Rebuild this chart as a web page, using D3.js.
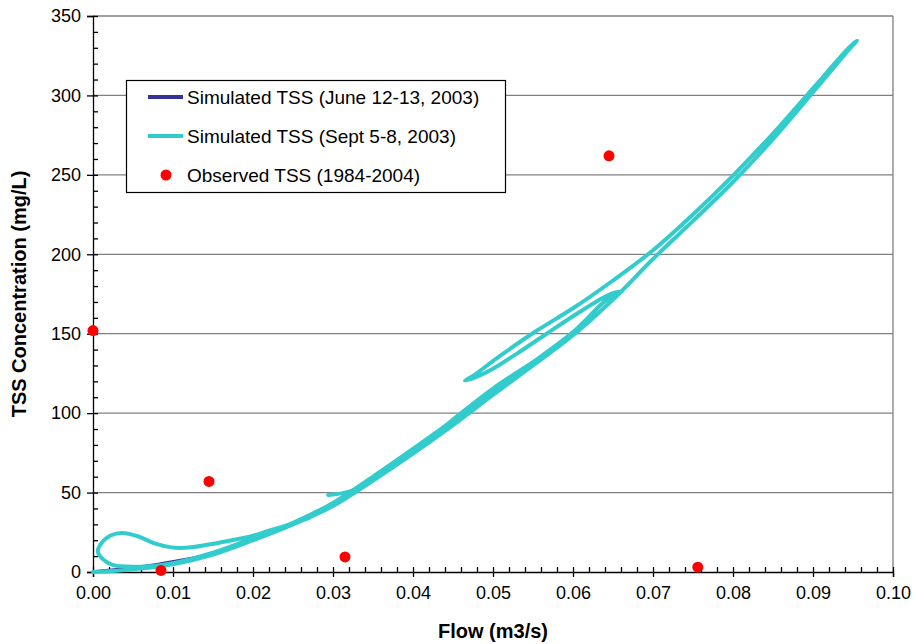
<!DOCTYPE html>
<html><head><meta charset="utf-8">
<script src="https://cdn.jsdelivr.net/npm/d3@7"></script>
<style>body{margin:0;background:#fff}svg{display:block;font-family:"Liberation Sans",Arial,sans-serif}</style>
</head><body><svg id="c" width="917" height="644"></svg>
<script>
// ---- data ----
const xTicks = [0,0.01,0.02,0.03,0.04,0.05,0.06,0.07,0.08,0.09,0.10];
const yTicks = [0,50,100,150,200,250,300,350];
const seriesNames = ["Simulated TSS (June 12-13, 2003)","Simulated TSS (Sept 5-8, 2003)","Observed TSS (1984-2004)"];

// June 12-13, 2003 simulated [flow, TSS]
const juneEvent = [[0.0000,0.2],[0.0040,2.2],[0.0080,4.8],[0.0120,8.3],[0.0145,10.8]];

// Sept 5-8, 2003 simulated [flow, TSS] (continuous trace)
const septEvent1 = [
 [0.0000,0.0],[0.0030,0.8],[0.0060,2.2],[0.0100,4.8],[0.0150,11.0],[0.0200,20.0],[0.0250,30.0],
 [0.0300,41.5],[0.0350,57.5],[0.0400,74.5],[0.0450,92.5],[0.0500,111.5],[0.0550,130.0],[0.0600,149.0],
 [0.0650,171.5],[0.0700,197.0],[0.0750,221.0],[0.0800,245.5],[0.0850,272.5],[0.0900,302.0],[0.0940,326.0],[0.0955,334.5],
 [0.0945,330.0],[0.0900,304.5],[0.0850,276.0],[0.0800,249.5],[0.0750,225.0],[0.0700,202.5],[0.0650,183.5],
 [0.0600,166.0],[0.0555,152.0],[0.0510,136.5],[0.0475,123.5],[0.0465,120.5],
 [0.0480,123.0],[0.0500,128.0],[0.0530,137.5],[0.0567,150.0],[0.0600,161.0],[0.0637,172.5],[0.0650,175.5],[0.0658,176.5],
 [0.0640,170.5],[0.0600,151.0],[0.0550,132.0],[0.0500,114.0],[0.0450,95.5],[0.0400,77.5],[0.0350,60.0],
 [0.0300,43.5],[0.0250,31.0],[0.0200,21.2],[0.0150,12.2],[0.0100,5.6],[0.0060,3.3],
 [0.0040,3.5],[0.0028,4.0],[0.0018,6.0],[0.0008,10.5],[0.0006,13.5],[0.0012,19.0],[0.0022,23.0],[0.0036,24.6],
 [0.0056,22.5],[0.0077,18.0],[0.0098,15.5],[0.0120,15.4],[0.0156,18.3],[0.0200,22.8],[0.0217,25.5],[0.0240,29.0],[0.0270,34.0]
];
const septEvent2 = [[0.0294,48.5],[0.0315,50.0],[0.0340,54.5],[0.0380,69.0],[0.0420,83.5],[0.0460,100.0],[0.0500,115.5],[0.0553,133.0]];

// Observed TSS (1984-2004)
const obsFlow = [0.0000,0.0085,0.0145,0.0315,0.0645,0.0756];
const obsTSS  = [152,1,57,9.5,262,3];

// ---- drawing ----
const svg = d3.select("#c");
const L=93,R=893,T=16,B=572;
const x = d3.scaleLinear().domain([0,0.1]).range([L,R]);
const y = d3.scaleLinear().domain([0,350]).range([B,T]);

// gridlines
svg.append("g").selectAll("line").data(yTicks.filter(d=>d>0)).join("line")
  .attr("x1",L).attr("x2",R).attr("y1",d=>y(d)).attr("y2",d=>y(d))
  .attr("stroke","#808080").attr("stroke-width",1.3);
svg.append("line").attr("x1",R).attr("x2",R).attr("y1",T).attr("y2",B).attr("stroke","#808080").attr("stroke-width",1.3);

// minor ticks
const yMinor = d3.range(0,351,10);
const xMinor = d3.range(0,51).map(i=>i*0.002);

// y axis
svg.append("g").attr("transform",`translate(${L},0)`)
  .call(d3.axisLeft(y).tickValues(yTicks).tickFormat(d3.format("d")).tickSize(6).tickPadding(6));
svg.append("g").attr("transform",`translate(${L},0)`)
  .call(d3.axisRight(y).tickValues(yMinor).tickFormat("").tickSize(5)).select(".domain").remove();
// x axis
svg.append("g").attr("transform",`translate(0,${B})`)
  .call(d3.axisBottom(x).tickValues(xTicks).tickFormat(d3.format(".2f")).tickSize(5).tickPadding(9));
svg.append("g").attr("transform",`translate(0,${B})`)
  .call(d3.axisTop(x).tickValues(xMinor).tickFormat("").tickSize(5)).select(".domain").remove();
svg.selectAll(".tick text").attr("font-size",18).attr("fill","#000").attr("font-family","Liberation Sans, Arial, sans-serif");
svg.selectAll(".domain").attr("stroke","#000").attr("stroke-width",1.3);
svg.selectAll(".tick line").attr("stroke","#000").attr("stroke-width",1.3);

// axis titles
svg.append("text").attr("x",(L+R)/2).attr("y",638).attr("text-anchor","middle")
  .attr("font-weight","bold").attr("font-size",20).text("Flow (m3/s)");
svg.append("text").attr("transform",`translate(26,${(T+B)/2}) rotate(-90)`).attr("text-anchor","middle")
  .attr("font-weight","bold").attr("font-size",20).text("TSS Concentration (mg/L)");

// lines
const line = d3.line().x(d=>x(d[0])).y(d=>y(d[1])).curve(d3.curveCatmullRom.alpha(0.5));
const plot = svg.append("g");
plot.append("path").attr("d",line(juneEvent)).attr("fill","none").attr("stroke","#333399")
  .attr("stroke-width",3).attr("stroke-linecap","round").attr("stroke-linejoin","round");
[septEvent1,septEvent2].forEach(s=>{
  plot.append("path").attr("d",line(s)).attr("fill","none").attr("stroke","#33CCCC")
    .attr("stroke-width",4).attr("stroke-linecap","round").attr("stroke-linejoin","round");
});
// observed
plot.selectAll("circle").data(obsFlow).join("circle")
  .attr("cx",(d)=>x(d)).attr("cy",(d,i)=>y(obsTSS[i])).attr("r",5.5).attr("fill","#FF0000");

// legend
const lg = svg.append("g");
lg.append("rect").attr("x",126.5).attr("y",80.5).attr("width",379).attr("height",112)
  .attr("fill","#fff").attr("stroke","#000").attr("stroke-width",1.2);
const ly=[97,136,175];
lg.append("line").attr("x1",148).attr("x2",183).attr("y1",ly[0]).attr("y2",ly[0]).attr("stroke","#333399").attr("stroke-width",4);
lg.append("line").attr("x1",148).attr("x2",183).attr("y1",ly[1]).attr("y2",ly[1]).attr("stroke","#33CCCC").attr("stroke-width",4);
lg.append("circle").attr("cx",166).attr("cy",ly[2]).attr("r",5.5).attr("fill","#FF0000");
lg.selectAll("text.l").data(seriesNames).join("text").attr("class","l")
  .attr("x",187).attr("y",(d,i)=>ly[i]).attr("dy","0.36em").attr("font-size",19).text(d=>d);
</script></body></html>
